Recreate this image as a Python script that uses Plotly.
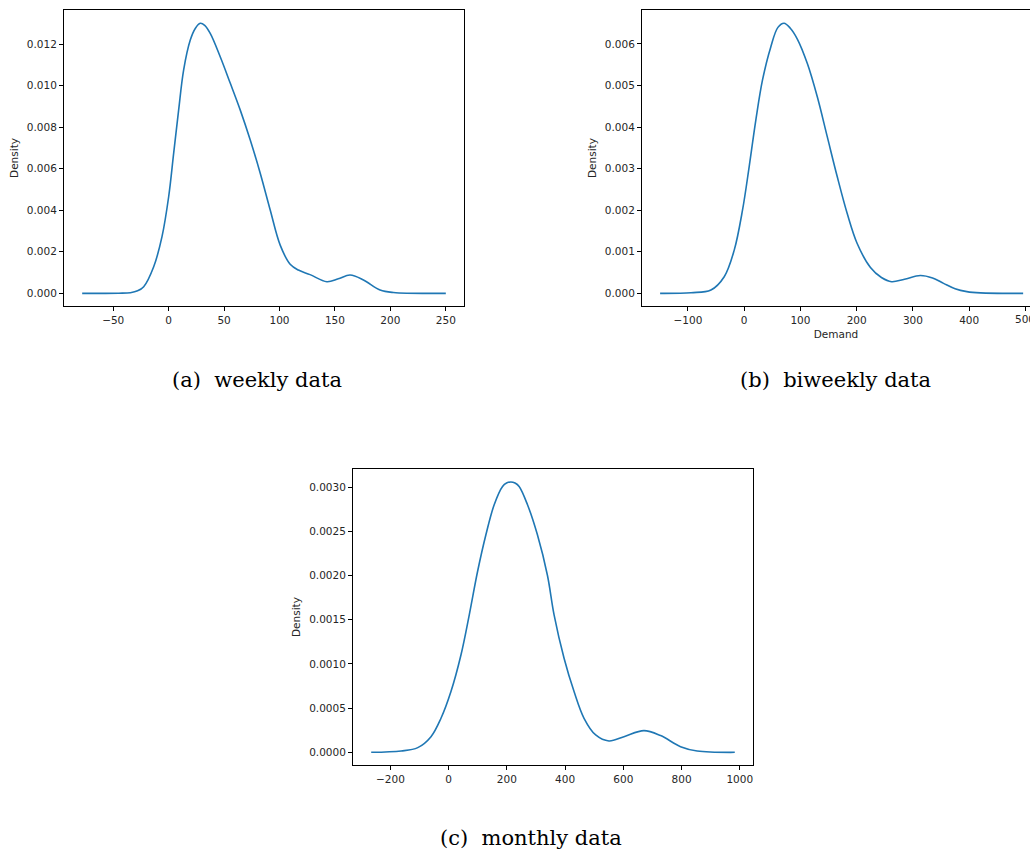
import plotly.graph_objects as go

# ---- data (KDE curves) ----
weekly_x = [-78, -45, -34.5, -28, -22.5, -13.5, -6, 0, 4.5, 9, 13.5, 19.5, 24, 28.5, 32.5, 37.5, 46.5,
            55.6, 64.6, 73.6, 82.6, 91.6, 100.6, 109.6, 117, 127.6, 142.7, 153, 163.7, 175.7, 190.7,
            202.7, 250]
weekly_y = [0, 0.000005, 0.00003, 0.00012, 0.00032, 0.00128, 0.00273, 0.00465, 0.00674, 0.00882, 0.01075,
            0.01219, 0.01275, 0.0130, 0.01290, 0.01251, 0.01139, 0.01011, 0.00882, 0.00738, 0.00578,
            0.00401, 0.00232, 0.00140, 0.00112, 0.00090, 0.00056, 0.00070, 0.00088, 0.00064, 0.00016,
            0.00004, 0]

biweekly_x = [-149.5, -94.5, -59.1, -35.5, -17.7, -3, 8.9, 20.7, 32.5, 47.3, 60, 70.9, 82, 94.5, 112.3,
              130, 147.7, 165.4, 183.2, 200.9, 224.5, 244, 262, 285, 313.2, 335, 354.5, 375, 395.9, 420, 496]
biweekly_y = [0, 0.000015, 0.00008, 0.0004, 0.00104, 0.002, 0.00305, 0.00417, 0.00513, 0.00593, 0.0064,
              0.0065, 0.00638, 0.00612, 0.00553, 0.00473, 0.00377, 0.00281, 0.00192, 0.0012, 0.00062,
              0.00038, 0.00028, 0.00034, 0.00043, 0.00037, 0.00024, 0.00011, 0.00004, 0.00001, 0]

monthly_x = [-266, -163, -106, -60.6, -26.3, 8, 42.3, 70.9, 99.4, 128, 156.5, 185.2, 199, 213.7, 228,
             242.2, 270.9, 305, 339.5, 362.2, 396.5, 430.8, 465.1, 505.1, 550.8, 602.2, 670.9, 728,
             796.6, 853.8, 983]
monthly_y = [0, 0.000015, 0.000053, 0.000177, 0.000385, 0.000687, 0.0011, 0.001555, 0.002045, 0.00246,
             0.0028, 0.003007, 0.003045, 0.003057, 0.003045, 0.003007, 0.0028, 0.00246, 0.00200, 0.001555,
             0.001064, 0.000687, 0.000385, 0.000196, 0.000128, 0.000177, 0.000245, 0.000189, 0.000064,
             0.000015, 0]

captions = ["(a)  weekly data", "(b)  biweekly data", "(c)  monthly data"]

W, H = 1030, 850
LINE = "#1f77b4"
TXT = "#262626"
TICKFONT = dict(family="DejaVu Sans", size=10.5, color=TXT)
LSTYLE = dict(color=LINE, width=1.6, shape="spline", smoothing=1.0)

fig = go.Figure()
fig.add_trace(go.Scatter(x=weekly_x, y=weekly_y, mode="lines", line=LSTYLE,
                         xaxis="x", yaxis="y", showlegend=False))
fig.add_trace(go.Scatter(x=biweekly_x, y=biweekly_y, mode="lines", line=LSTYLE,
                         xaxis="x2", yaxis="y2", showlegend=False))
fig.add_trace(go.Scatter(x=monthly_x, y=monthly_y, mode="lines", line=LSTYLE,
                         xaxis="x3", yaxis="y3", showlegend=False))

def xax(domain, rng, dtick, anchor, mirror=True, title=None):
    d = dict(domain=domain, range=rng, dtick=dtick, tick0=0, anchor=anchor,
             showline=True, linecolor="black", linewidth=1, mirror=mirror,
             ticks="outside", ticklen=4, tickcolor="black", tickwidth=1,
             showgrid=False, zeroline=False, tickfont=TICKFONT)
    if title:
        d["title"] = dict(text=title, font=dict(family="DejaVu Sans", size=10.5, color=TXT), standoff=6)
    return d

def yax(domain, rng, dtick, fmt, anchor, mirror=True):
    return dict(domain=domain, range=rng, dtick=dtick, tick0=0, tickformat=fmt, anchor=anchor,
                showline=True, linecolor="black", linewidth=1, mirror=mirror,
                ticks="outside", ticklen=4, tickcolor="black", tickwidth=1,
                showgrid=False, zeroline=False, tickfont=TICKFONT,
                title=dict(text="Density", font=dict(family="DejaVu Sans", size=10.5, color=TXT), standoff=6))

def px_x(a, b):
    return [a / W, min(b / W, 1.0)]

def px_y(top, bottom):
    return [1 - bottom / H, 1 - top / H]

fig.update_layout(
    width=W, height=H, margin=dict(l=0, r=0, t=0, b=0),
    paper_bgcolor="white", plot_bgcolor="white",
    xaxis=xax(px_x(64, 464), [-94.4, 266.4], 50, "y"),
    yaxis=yax(px_y(10, 306), [-0.00061, 0.01364], 0.002, ".3f", "x"),
    xaxis2=xax(px_x(642, 1030), [-181.7, 508.2], 100, "y2", mirror=True, title="Demand"),
    yaxis2=yax(px_y(10, 306), [-0.000305, 0.006818], 0.001, ".3f", "x2", mirror=False),
    xaxis3=xax(px_x(353, 753), [-328.5, 1045.5], 200, "y3"),
    yaxis3=yax(px_y(469, 765), [-0.0001434, 0.003204], 0.0005, ".4f", "x3"),
)

# the "500" tick label of panel (b) is cut by the right edge, as in the reference
fig.add_annotation(text="500", x=500, xref="x2", y=1 - 319 / H, yref="paper",
                   showarrow=False, xanchor="center", yanchor="middle", font=TICKFONT)

cap_pos = [(257, 380), (835, 380), (531, 838)]
for text, (cx, cy) in zip(captions, cap_pos):
    fig.add_annotation(text=text, x=cx / W, y=1 - cy / H, xref="paper", yref="paper",
                       showarrow=False, xanchor="center", yanchor="middle",
                       font=dict(family="DejaVu Serif", size=21, color="black"))

fig.write_html("out.html")
